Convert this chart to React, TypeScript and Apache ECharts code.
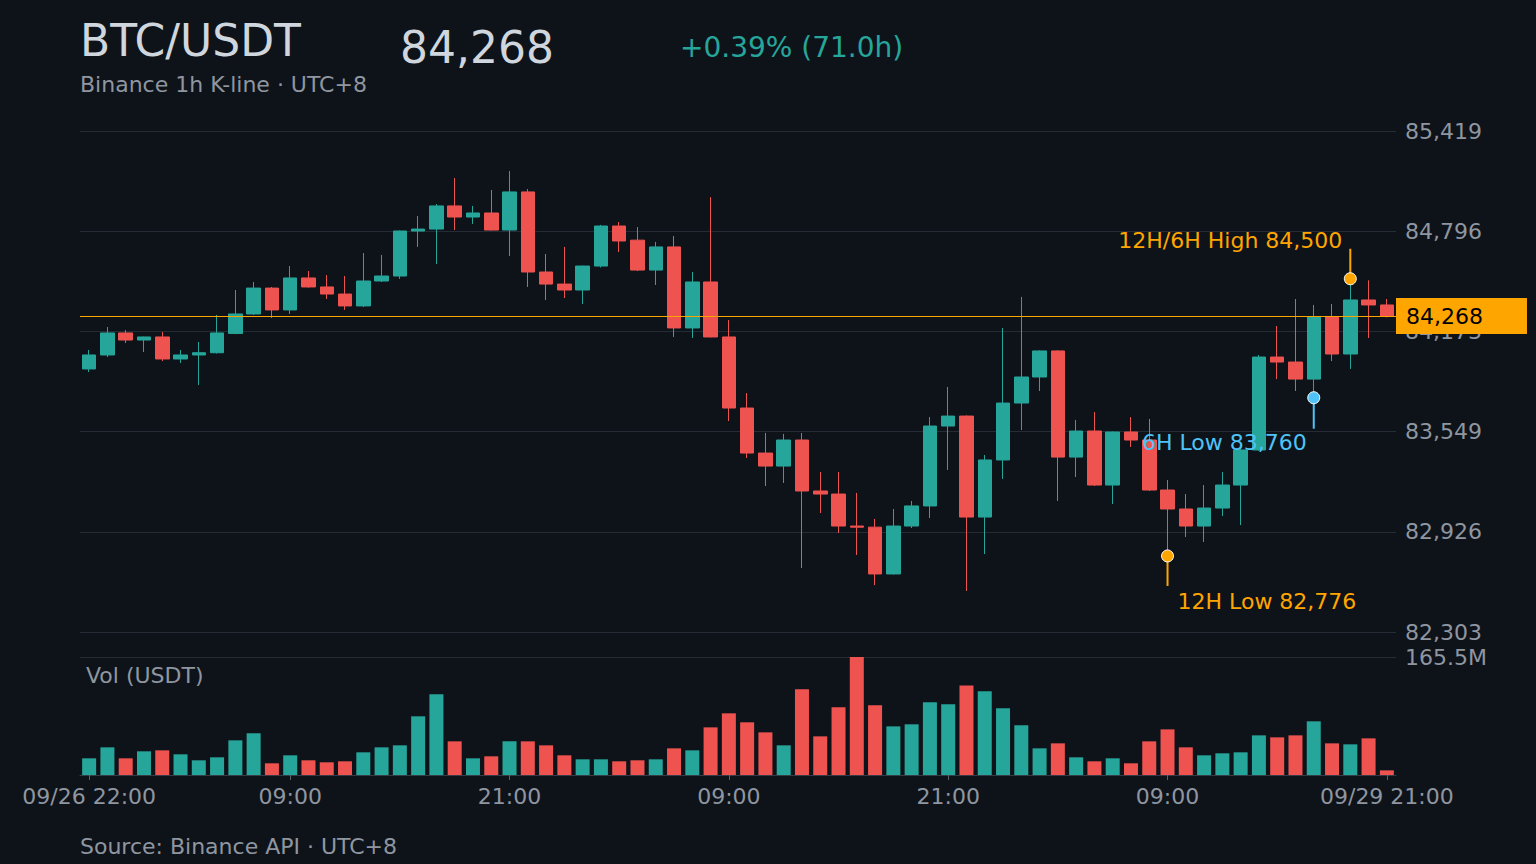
import React, { useEffect, useRef } from 'react'
import * as echarts from 'echarts'

// 1h K 线数据（09/26 22:00 起，UTC+8）
const opens = [
    83939, 84026, 84163, 84119, 84138, 84001, 84026, 84040, 84160, 84281, 84442, 84306,
    84505, 84449, 84405, 84331, 84486, 84517, 84797, 84809, 84953, 84884, 84909, 84803,
    85040, 84542, 84467, 84430, 84579, 84828, 84740, 84554, 84698, 84194, 84480, 84138,
    83696, 83416, 83335, 83497, 83180, 83161, 82962, 82955, 82664, 82962, 83087, 83584,
    83646, 83018, 83373, 83727, 83889, 84051, 83391, 83553, 83217, 83547, 83497, 83186,
    83068, 82962, 83074, 83217, 83435, 84013, 83982, 83876, 84262, 84032, 84368, 84337,
]
const highs = [
    84057, 84200, 84181, 84140, 84169, 84057, 84107, 84275, 84430, 84480, 84449, 84579,
    84548, 84523, 84517, 84660, 84648, 84800, 84890, 84965, 85127, 84953, 85052, 85170,
    85058, 84654, 84698, 84582, 84835, 84853, 84822, 84729, 84766, 84542, 85008, 84243,
    83789, 83541, 83535, 83541, 83298, 83298, 83168, 83006, 83068, 83118, 83640, 83827,
    83650, 83404, 84194, 84387, 84055, 84055, 83622, 83671, 83550, 83640, 83628, 83248,
    83161, 83217, 83298, 83440, 84026, 84206, 84374, 84337, 84343, 84500, 84490, 84374,
]
const lows = [
    83920, 84013, 84100, 84044, 83988, 83976, 83839, 84035, 84155, 84275, 84256, 84281,
    84445, 84374, 84306, 84324, 84480, 84499, 84698, 84592, 84803, 84841, 84800, 84641,
    84449, 84368, 84380, 84343, 84570, 84666, 84548, 84461, 84138, 84132, 84135, 83615,
    83385, 83211, 83230, 82701, 83043, 82919, 82782, 82595, 82660, 82950, 83012, 83311,
    82558, 82788, 83255, 83559, 83802, 83118, 83267, 83211, 83099, 83454, 83180, 82776,
    82894, 82863, 83024, 82968, 83430, 83876, 83802, 83760, 83988, 83939, 84132, 84260,
]
const closes = [
    84026, 84163, 84119, 84138, 84001, 84026, 84040, 84163, 84281, 84442, 84306, 84505,
    84449, 84405, 84331, 84486, 84517, 84797, 84809, 84953, 84884, 84909, 84803, 85040,
    84542, 84467, 84430, 84579, 84828, 84735, 84554, 84698, 84194, 84480, 84138, 83696,
    83416, 83335, 83497, 83180, 83161, 82962, 82955, 82664, 82962, 83087, 83584, 83646,
    83018, 83373, 83727, 83889, 84051, 83391, 83553, 83217, 83547, 83497, 83186, 83068,
    82962, 83074, 83217, 83435, 84013, 83982, 83876, 84262, 84032, 84368, 84337, 84268,
]
// 成交额，单位 M USDT
const volumes = [
    23.4, 38.8, 23.4, 33.2, 34.6, 29.0, 20.6, 24.8, 48.6, 58.4, 16.4, 27.6,
    20.6, 17.8, 19.2, 31.8, 38.8, 41.6, 82.3, 113.1, 47.2, 23.4, 26.2, 47.2,
    47.2, 41.6, 27.6, 22.0, 22.0, 19.2, 20.6, 22.0, 37.4, 34.6, 66.8, 86.5,
    73.9, 59.8, 41.6, 120.1, 54.2, 94.9, 165.5, 97.7, 68.2, 71.1, 101.9, 99.1,
    125.7, 117.3, 93.5, 69.7, 37.4, 44.4, 24.8, 19.2, 23.4, 16.4, 47.2, 64.0,
    38.8, 27.6, 30.4, 31.8, 55.6, 52.8, 55.6, 75.3, 44.4, 43.0, 51.4, 6.5,
]
const priceTicks = { min: 82303, max: 85419, step: 623.2 }

// 高低点标注
const marks = [
    { idx: 69, price: 84500, name: '12H/6H High', kind: 'high' },
    { idx: 67, price: 83760, name: '6H Low', kind: 'low6' },
    { idx: 59, price: 82776, name: '12H Low', kind: 'low12' },
]

const START_DAY = 26
const START_HOUR = 22

const BG = '#0e131a'
const UP = '#26a69a'
const DOWN = '#ef5350'
const ORANGE = '#ffa500'
const BLUE = '#4fc3f7'
const GRAY = '#8f96a0'
const LINE = '#262c35'
const FONT = '"DejaVu Sans", sans-serif'
const FS = 22

const markStyle: Record<string, any> = {
    high: { color: ORANGE, stem: -30, dx: -8, dy: -38, align: 'right' },
    low6: { color: BLUE, stem: 31, dx: -7, dy: 45, align: 'right' },
    low12: { color: ORANGE, stem: 30, dx: 10, dy: 46, align: 'left' },
}

const pad = (n: number) => (n < 10 ? '0' + n : '' + n)
const times = opens.map((_, i) => {
    const h = START_HOUR + i
    return `09/${START_DAY + Math.floor(h / 24)} ${pad(h % 24)}:00`
})
const last = times.length - 1
const showLabel = (i: number) => {
    if (i === 0 || i === last) return true
    const hh = times[i].slice(6, 8)
    return hh === '09' || hh === '21'
}

const fmt = (v: number) => Math.round(v).toLocaleString('en-US')

const App: React.FC = () => {
    const chartRef = useRef<HTMLDivElement | null>(null)

    useEffect(() => {
        document.body.style.margin = '0'
        document.body.style.background = BG
        if (!chartRef.current) return
        const chart = echarts.init(chartRef.current, null, { renderer: 'svg' })

        const lastClose = closes[last]
        const change = ((lastClose - opens[0]) / opens[0]) * 100
        const volMax = Math.max(...volumes)

        const option: any = {
            animation: false,
            backgroundColor: BG,
            textStyle: { fontFamily: FONT },
            grid: [
                { left: 80, right: 140, top: 131, height: 501 },
                { left: 80, right: 140, top: 657, height: 118 },
            ],
            xAxis: [
                {
                    type: 'category',
                    gridIndex: 0,
                    data: times,
                    axisLine: { show: false },
                    axisTick: { show: false },
                    axisLabel: { show: false },
                    splitLine: { show: false },
                },
                {
                    type: 'category',
                    gridIndex: 1,
                    data: times,
                    axisLine: { lineStyle: { color: '#353c46' } },
                    axisTick: {
                        show: true,
                        alignWithLabel: true,
                        interval: (i: number) => showLabel(i),
                        length: 5,
                        lineStyle: { color: '#5a616b' },
                    },
                    axisLabel: {
                        interval: (i: number) => showLabel(i),
                        formatter: (v: string, i: number) => (i === 0 || i === last ? v : v.slice(6)),
                        color: GRAY,
                        fontSize: FS,
                        margin: 10,
                    },
                    splitLine: { show: false },
                },
            ],
            yAxis: [
                {
                    type: 'value',
                    gridIndex: 0,
                    position: 'right',
                    min: priceTicks.min,
                    max: priceTicks.max,
                    interval: priceTicks.step,
                    axisLine: { show: false },
                    axisTick: { show: false },
                    axisLabel: { color: GRAY, fontSize: FS, margin: 9, formatter: fmt },
                    splitLine: { lineStyle: { color: LINE, width: 1 } },
                },
                {
                    type: 'value',
                    gridIndex: 1,
                    position: 'right',
                    min: 0,
                    max: volMax,
                    interval: volMax,
                    axisLine: { show: false },
                    axisTick: { show: false },
                    axisLabel: {
                        color: GRAY,
                        fontSize: FS,
                        margin: 9,
                        formatter: (v: number) => (v > 0 ? v.toFixed(1) + 'M' : ''),
                    },
                    splitLine: { lineStyle: { color: LINE, width: 1 } },
                },
            ],
            series: [
                {
                    type: 'candlestick',
                    xAxisIndex: 0,
                    yAxisIndex: 0,
                    barWidth: 14,
                    data: opens.map((o, i) => [o, closes[i], lows[i], highs[i]]),
                    itemStyle: {
                        color: UP,
                        color0: DOWN,
                        borderColor: UP,
                        borderColor0: DOWN,
                        borderWidth: 1,
                    },
                    markLine: {
                        silent: true,
                        symbol: ['none', 'none'],
                        lineStyle: { color: ORANGE, width: 1, type: 'solid' },
                        label: {
                            show: true,
                            position: 'end',
                            distance: 0,
                            formatter: () => fmt(lastClose),
                            backgroundColor: ORANGE,
                            color: '#000000',
                            fontSize: FS,
                            padding: [7, 44, 7, 10],
                        },
                        data: [{ yAxis: lastClose }],
                    },
                },
                {
                    type: 'bar',
                    xAxisIndex: 1,
                    yAxisIndex: 1,
                    barWidth: 14,
                    data: volumes.map((v, i) => ({
                        value: v,
                        itemStyle: { color: closes[i] >= opens[i] ? UP : DOWN },
                    })),
                },
                {
                    type: 'custom',
                    xAxisIndex: 0,
                    yAxisIndex: 0,
                    z: 10,
                    clip: false,
                    silent: true,
                    encode: { x: 0, y: 1 },
                    data: marks.map((m) => [m.idx, m.price]),
                    renderItem: (params: any, api: any) => {
                        const m = marks[params.dataIndex]
                        const s = markStyle[m.kind]
                        const [x, y] = api.coord([api.value(0), api.value(1)])
                        return {
                            type: 'group',
                            children: [
                                {
                                    type: 'line',
                                    shape: { x1: x, y1: y, x2: x, y2: y + s.stem },
                                    style: { stroke: s.color, lineWidth: 2 },
                                },
                                {
                                    type: 'circle',
                                    shape: { cx: x, cy: y, r: 6 },
                                    style: { fill: s.color, stroke: '#ffffff', lineWidth: 1 },
                                },
                                {
                                    type: 'text',
                                    x: x + s.dx,
                                    y: y + s.dy,
                                    style: {
                                        text: `${m.name} ${fmt(m.price)}`,
                                        fill: s.color,
                                        fontSize: FS,
                                        fontFamily: FONT,
                                        align: s.align,
                                        verticalAlign: 'middle',
                                    },
                                },
                            ],
                        }
                    },
                },
            ],
            graphic: [
                {
                    type: 'text',
                    x: 80,
                    y: 40,
                    style: { text: 'BTC/USDT', fill: '#d0d6de', fontSize: 44, fontFamily: FONT, verticalAlign: 'middle' },
                },
                {
                    type: 'text',
                    x: 400,
                    y: 47,
                    style: { text: fmt(lastClose), fill: '#d0d6de', fontSize: 44, fontFamily: FONT, verticalAlign: 'middle' },
                },
                {
                    type: 'text',
                    x: 680,
                    y: 47,
                    style: {
                        text: `${change >= 0 ? '+' : ''}${change.toFixed(2)}% (${last.toFixed(1)}h)`,
                        fill: change >= 0 ? UP : DOWN,
                        fontSize: 28,
                        fontFamily: FONT,
                        verticalAlign: 'middle',
                    },
                },
                {
                    type: 'text',
                    x: 80,
                    y: 84,
                    style: { text: 'Binance 1h K-line · UTC+8', fill: GRAY, fontSize: FS, fontFamily: FONT, verticalAlign: 'middle' },
                },
                {
                    type: 'text',
                    x: 86,
                    y: 675,
                    style: { text: 'Vol (USDT)', fill: GRAY, fontSize: FS, fontFamily: FONT, verticalAlign: 'middle' },
                },
                {
                    type: 'text',
                    x: 80,
                    y: 846,
                    style: { text: 'Source: Binance API · UTC+8', fill: GRAY, fontSize: FS, fontFamily: FONT, verticalAlign: 'middle' },
                },
            ],
        }

        chart.setOption(option)

        return () => {
            chart.dispose()
        }
    }, [])

    return <div ref={chartRef} style={{ width: 1536, height: 864 }} />
}

export default App
